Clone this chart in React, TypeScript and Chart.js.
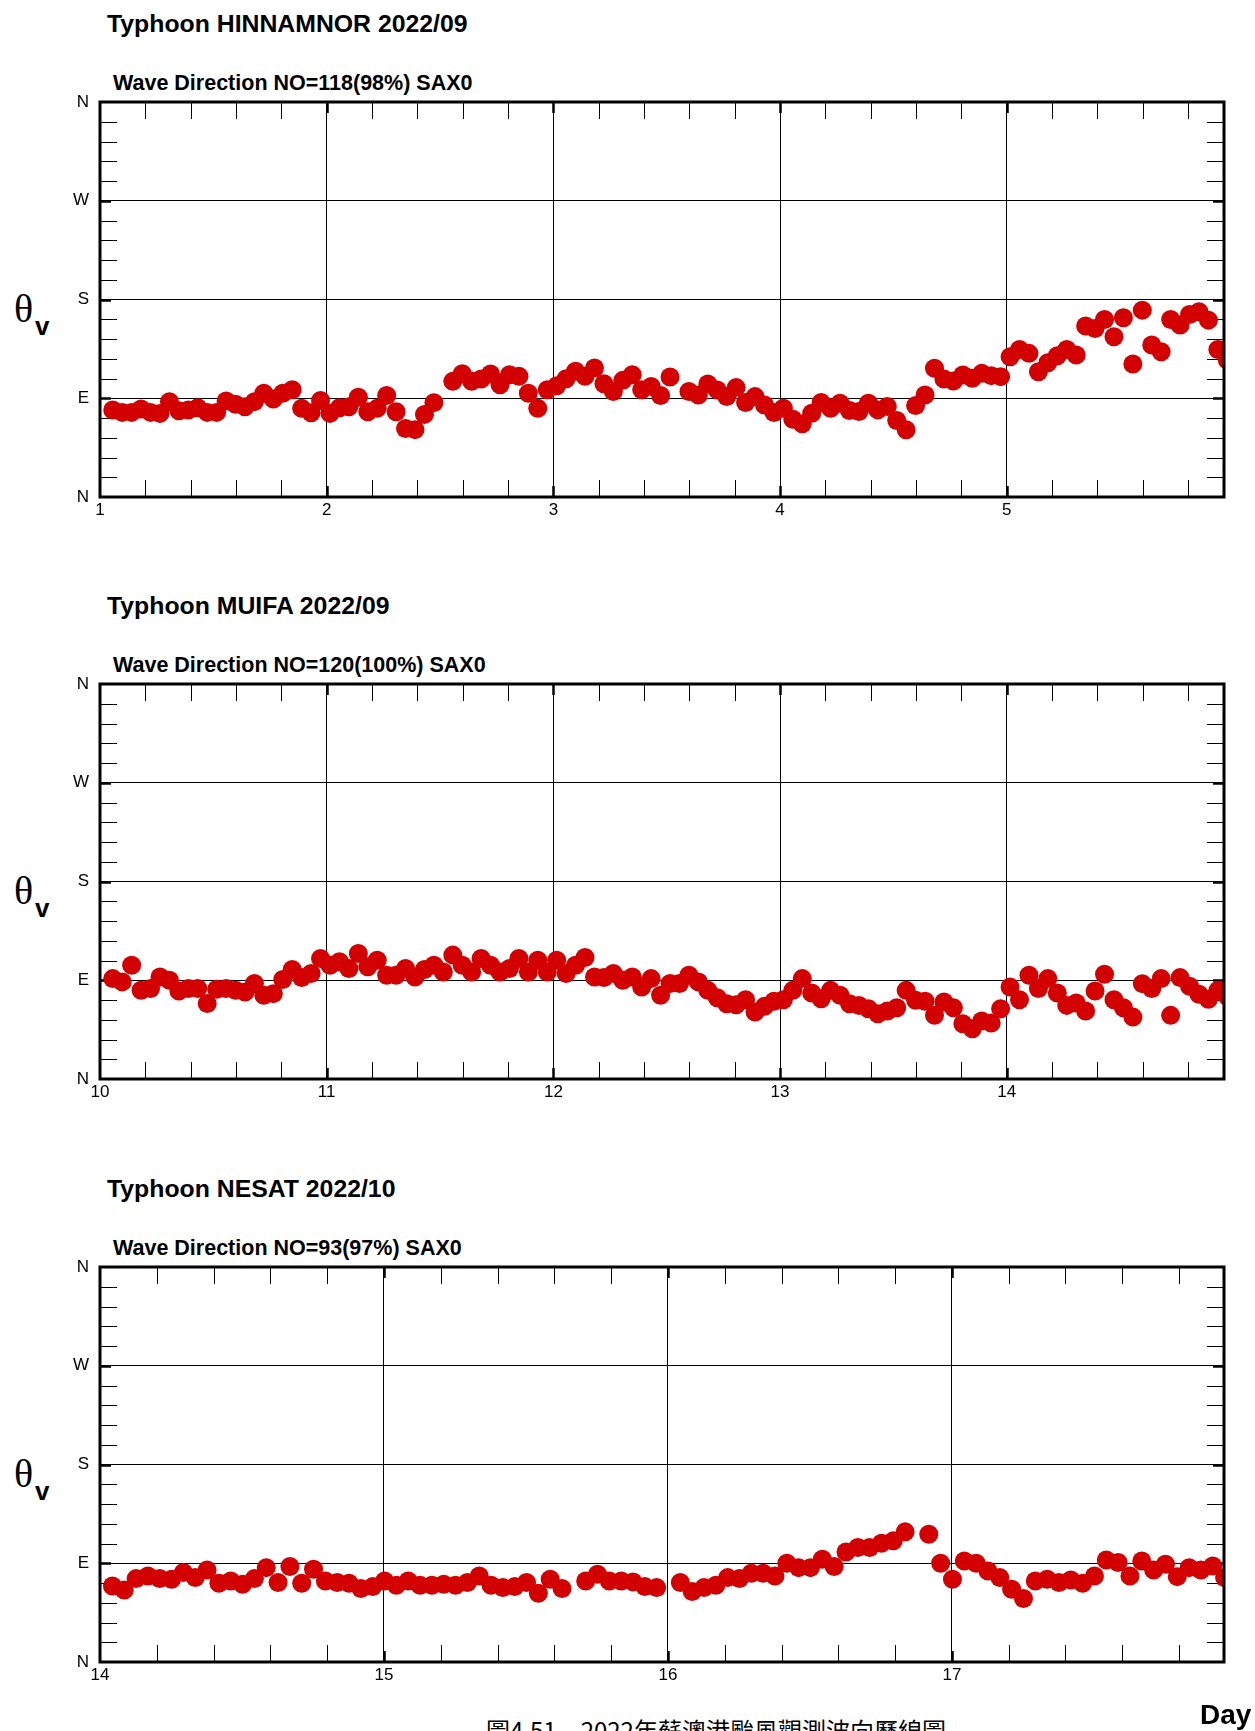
import React, { useEffect, useRef } from 'react';
import { Chart, registerables } from 'chart.js';

Chart.register(...registerables);

const SANS = '"Liberation Sans", Arial, Helvetica, sans-serif';
const SERIF = '"Liberation Serif", "Times New Roman", serif';
const CJK = '"Noto Sans CJK TC", "Noto Sans CJK SC", sans-serif';
const RED = '#d20000';

// direction axis: degrees, labelled by compass point
const DIR_TICK_VALUES = [0, 90, 180, 270, 360];
const DIR_TICK_LABELS = ['N', 'E', 'S', 'W', 'N'];

// ---- Typhoon HINNAMNOR 2022/09 : hourly wave direction (deg), hour 1.. from day 1 00:00 ----
const HINNAMNOR_DAYS = [1, 2, 3, 4, 5];
const HINNAMNOR_DIR = [
  79.3, 77.1, 77.1, 80.2, 77.1, 76.2, 86.9, 78.6, 79.3, 81.4,
  77.1, 77.1, 87.5, 84.5, 82.3, 86.9, 94.6, 89.4, 94.6, 97.7,
  80.8, 76.8, 87.9, 76.2, 81.4, 82.3, 90.9, 77.7, 80.8, 92.5,
  77.7, 62.4, 61.4, 75.3, 86.0, null, 105.4, 112.4, 105.4, 107.5,
  112.1, 102.3, 111.5, 110.0, 94.6, 80.8, 97.7, 101.4, 107.8, 114.6,
  110.0, 117.6, 103.2, 96.1, 106.3, 111.5, 97.7, 100.7, 92.5, 109.3,
  null, 96.1, 93.0, 103.0, 97.6, 91.5, 99.7, 86.1, 91.5, 83.9,
  77.0, 80.9, 70.9, 66.7, 76.4, 86.1, 80.9, 85.5, 78.8, 77.9,
  85.5, 79.4, 82.4, 69.7, 61.2, 83.3, 93.0, 117.3, 107.6, 105.8,
  111.2, 108.2, 112.7, 110.6, 109.7, 127.9, 134.5, 130.9, 114.2, 122.4,
  128.8, 134.5, 129.4, 155.8, 153.6, 161.8, 146.1, 163.3, 121.2, 170.3,
  138.5, 132.4, 161.8, 156.7, 166.4, 168.8, 161.2, 134.5, 124.8,
];

// ---- Typhoon MUIFA 2022/09 ----
const MUIFA_DAYS = [10, 11, 12, 13, 14];
const MUIFA_DIR = [
  91.5, 88.5, 103.7, 80.9, 82.4, 93.0, 90.0, 80.2, 82.4, 82.4,
  68.7, 81.8, 82.4, 80.9, 79.3, 87.0, 76.3, 77.8, 90.6, 99.8,
  92.4, 96.1, 109.8, 103.7, 106.8, 100.7, 114.4, 102.2, 108.3, 94.6,
  94.6, 100.7, 93.0, 99.8, 103.7, 97.6, 112.9, 103.7, 97.6, 109.8,
  103.7, 97.6, 100.7, 109.8, 97.6, 108.3, 97.6, 108.3, 96.1, 103.7,
  110.7, 93.0, 92.4, 96.1, 90.0, 93.0, 83.9, 91.5, 76.3, 87.0,
  87.0, 94.6, 88.5, 80.8, 74.1, 68.6, 67.7, 72.3, 61.0, 66.2,
  70.8, 72.3, 80.8, 91.5, 78.4, 73.2, 80.8, 76.3, 68.6, 67.1,
  64.1, 59.5, 61.9, 65.0, 80.8, 71.7, 70.8, 58.0, 70.2, 65.0,
  50.3, 45.8, 52.8, 51.0, 64.1, 83.9, 72.3, 94.6, 82.4, 91.5,
  78.4, 67.1, 69.3, 61.9, 80.2, 95.5, 72.3, 65.0, 56.4, 86.9,
  82.4, 91.5, 58.0, 92.4, 84.5, 77.2, 72.6, 80.8, 75.4,
];

// ---- Typhoon NESAT 2022/10 ----
const NESAT_DAYS = [14, 15, 16, 17];
const NESAT_DIR = [
  69.3, 65.7, 76.0, 78.4, 76.0, 75.4, 81.5, 76.9, 83.9, 71.8,
  73.9, 70.9, 76.0, 86.0, 72.4, 87.0, 71.8, 84.5, 73.9, 72.4,
  71.8, 66.9, 68.7, 73.9, 69.9, 73.9, 69.9, 69.9, 70.9, 69.9,
  72.4, 78.4, 69.9, 67.8, 68.7, 72.4, 62.6, 75.4, 66.9, null,
  73.9, 80.0, 73.9, 73.9, 73.0, 68.7, 67.8, null, 72.4, 64.2,
  67.8, 69.9, 76.9, 76.0, 80.9, 80.9, 78.4, 90.0, 86.0, 86.0,
  93.6, 87.0, 100.3, 104.3, 104.3, 108.2, 110.4, 118.6, null, 116.4,
  90.0, 75.4, 92.1, 90.0, 83.0, 76.9, 66.3, 57.8, 73.9, 75.4,
  72.4, 74.8, 71.8, 78.4, 93.0, 90.6, 78.4, 92.1, 83.9, 89.1,
  77.8, 86.0, 83.9, 87.6, 76.9,
];

type Panel = {
  title: string;
  subtitle: string;
  plotTop: number;
  xMin: number;
  xMax: number;
  hourShift: number;
  days: number[];
  values: (number | null)[];
};

const PANELS: Panel[] = [
  { title: 'Typhoon HINNAMNOR 2022/09', subtitle: 'Wave Direction NO=118(98%) SAX0', plotTop: 102, xMin: 1, xMax: 5.9583, hourShift: 0.35, days: HINNAMNOR_DAYS, values: HINNAMNOR_DIR },
  { title: 'Typhoon MUIFA 2022/09', subtitle: 'Wave Direction NO=120(100%) SAX0', plotTop: 684, xMin: 10, xMax: 14.9583, hourShift: 0.35, days: MUIFA_DAYS, values: MUIFA_DIR },
  { title: 'Typhoon NESAT 2022/10', subtitle: 'Wave Direction NO=93(97%) SAX0', plotTop: 1267, xMin: 14, xMax: 17.9583, hourShift: 0.05, days: NESAT_DAYS, values: NESAT_DIR },
];

const PAD_TOP = 40;
const PLOT_H = 395;
const X_AXIS_H = 40;
const CANVAS_H = PAD_TOP + PLOT_H + X_AXIS_H;
const PAGE_W = 1255;
const PLOT_LEFT = 100;
const PLOT_RIGHT = 1224;
const MINOR_LEN = 17;
const MAJOR_LEN = 11;
const TICK_FONT = 17;

const framePlugin = {
  id: 'frame',
  beforeDatasetsDraw(chart: any, _args: any, opts: any) {
    const { ctx, chartArea: a } = chart;
    const xs = chart.scales.x;
    const ys = chart.scales.y;
    ctx.save();
    ctx.strokeStyle = '#000';
    ctx.lineWidth = 1;
    ctx.beginPath();
    for (const v of opts.yMinor) {
      const p = Math.round(ys.getPixelForValue(v)) + 0.5;
      ctx.moveTo(a.left, p); ctx.lineTo(a.left + MINOR_LEN, p);
      ctx.moveTo(a.right - MINOR_LEN, p); ctx.lineTo(a.right, p);
    }
    for (const v of opts.xMinor) {
      const p = Math.round(xs.getPixelForValue(v)) + 0.5;
      ctx.moveTo(p, a.top); ctx.lineTo(p, a.top + MINOR_LEN);
      ctx.moveTo(p, a.bottom - MINOR_LEN); ctx.lineTo(p, a.bottom);
    }
    ctx.stroke();
    ctx.lineWidth = 2.5;
    ctx.beginPath();
    for (const v of opts.yMajor) {
      const p = Math.round(ys.getPixelForValue(v)) + 0.5;
      ctx.moveTo(a.left, p); ctx.lineTo(a.left + MAJOR_LEN, p);
      ctx.moveTo(a.right - MAJOR_LEN, p); ctx.lineTo(a.right, p);
    }
    for (const v of opts.xMajor) {
      const p = Math.round(xs.getPixelForValue(v)) + 0.5;
      ctx.moveTo(p, a.top); ctx.lineTo(p, a.top + MAJOR_LEN);
      ctx.moveTo(p, a.bottom - MAJOR_LEN); ctx.lineTo(p, a.bottom);
    }
    ctx.stroke();
    ctx.restore();
  },
  afterDatasetsDraw(chart: any) {
    const { ctx, chartArea: a } = chart;
    ctx.save();
    ctx.strokeStyle = '#000';
    ctx.lineWidth = 3;
    ctx.strokeRect(a.left, a.top, a.right - a.left, a.bottom - a.top);
    ctx.restore();
  },
};

function DirectionChart({ panel }: { panel: Panel }) {
  const ref = useRef<HTMLCanvasElement>(null);
  useEffect(() => {
    const canvas = ref.current;
    if (!canvas) return;
    const points: { x: number; y: number }[] = [];
    panel.values.forEach((v, i) => {
      if (v != null) points.push({ x: panel.xMin + (i + 1 + panel.hourShift) / 24, y: v });
    });
    const yMinor: number[] = [];
    for (let v = 18; v < 360; v += 18) if (v % 90 !== 0) yMinor.push(v);
    const xMinor: number[] = [];
    for (let k = 1; ; k++) {
      const v = Math.round((panel.xMin + 0.2 * k) * 10) / 10;
      if (v >= panel.xMax) break;
      if (!Number.isInteger(v)) xMinor.push(v);
    }
    const xMajor = panel.days.filter((d) => d > panel.xMin);
    const yMajor = [90, 180, 270];

    const chart = new Chart(canvas, {
      type: 'scatter',
      data: {
        datasets: [
          {
            data: points,
            pointBackgroundColor: RED,
            pointBorderColor: RED,
            pointBorderWidth: 0,
            pointRadius: 9.5,
            pointHoverRadius: 9.5,
            showLine: false,
            clip: 0,
          } as any,
        ],
      },
      options: {
        animation: false,
        responsive: false,
        events: [],
        layout: { padding: { left: 0, right: PAGE_W - PLOT_RIGHT, top: PAD_TOP, bottom: 0 } },
        plugins: {
          legend: { display: false },
          tooltip: { enabled: false },
          frame: { xMinor, yMinor, xMajor, yMajor },
        } as any,
        scales: {
          x: {
            type: 'linear',
            min: panel.xMin,
            max: panel.xMax,
            afterBuildTicks: (s: any) => {
              s.ticks = panel.days.map((d) => ({ value: d }));
            },
            afterFit: (s: any) => {
              s.height = X_AXIS_H;
            },
            border: { display: false },
            grid: {
              drawTicks: false,
              lineWidth: 1,
              color: (c: any) => (c.tick && c.tick.value > panel.xMin ? '#000' : 'rgba(0,0,0,0)'),
            },
            ticks: {
              padding: 3,
              color: '#000',
              autoSkip: false,
              maxRotation: 0,
              font: { family: SANS, size: TICK_FONT },
              callback: (v: any) => String(v),
            },
          },
          y: {
            type: 'linear',
            min: 0,
            max: 360,
            afterBuildTicks: (s: any) => {
              s.ticks = DIR_TICK_VALUES.map((v) => ({ value: v }));
            },
            afterFit: (s: any) => {
              s.width = PLOT_LEFT;
            },
            border: { display: false },
            grid: {
              drawTicks: false,
              lineWidth: 1,
              color: (c: any) => (c.tick && c.tick.value > 0 && c.tick.value < 360 ? '#000' : 'rgba(0,0,0,0)'),
            },
            ticks: {
              padding: 11,
              color: '#000',
              autoSkip: false,
              font: { family: SANS, size: TICK_FONT },
              callback: (v: any) => {
                const i = DIR_TICK_VALUES.indexOf(Number(v));
                return i >= 0 ? DIR_TICK_LABELS[i] : '';
              },
            },
          },
        },
      } as any,
      plugins: [framePlugin as any],
    });
    return () => chart.destroy();
  }, [panel]);

  return (
    <canvas
      ref={ref}
      width={PAGE_W}
      height={CANVAS_H}
      style={{ position: 'absolute', left: 0, top: panel.plotTop - PAD_TOP, width: PAGE_W, height: CANVAS_H }}
    />
  );
}

function PanelTexts({ panel }: { panel: Panel }) {
  const t = panel.plotTop;
  const base: React.CSSProperties = { position: 'absolute', lineHeight: 1, whiteSpace: 'pre', color: '#000', margin: 0 };
  return (
    <>
      <div style={{ ...base, left: 107, top: t - 90.2, fontFamily: SANS, fontWeight: 700, fontSize: 24.8 }}>{panel.title}</div>
      <div style={{ ...base, left: 113, top: t - 28.8, fontFamily: SANS, fontWeight: 700, fontSize: 21.5 }}>{panel.subtitle}</div>
      <div style={{ ...base, left: 14, top: t + 186.8, fontFamily: SERIF, fontSize: 40 }}>θ</div>
      <div style={{ ...base, left: 35, top: t + 211.3, fontFamily: SANS, fontWeight: 700, fontSize: 26 }}>v</div>
    </>
  );
}

export default function App() {
  return (
    <div
      style={{
        position: 'absolute',
        left: 0,
        top: 0,
        width: PAGE_W,
        height: 1731,
        overflow: 'hidden',
        background: '#fff',
      }}
    >
      {PANELS.map((p) => (
        <React.Fragment key={p.title}>
          <PanelTexts panel={p} />
          <DirectionChart panel={p} />
        </React.Fragment>
      ))}
      <div style={{ position: 'absolute', left: 1200, top: 1701.3, lineHeight: 1, fontFamily: SANS, fontWeight: 700, fontSize: 28, color: '#000' }}>
        Day
      </div>
      <div style={{ position: 'absolute', left: 486, top: 1718, lineHeight: 1, fontFamily: CJK, fontSize: 24, color: '#000', whiteSpace: 'pre' }}>
        {'圖4.51\u30002022年蘇澳港颱風觀測波向歷線圖'}
      </div>
    </div>
  );
}
